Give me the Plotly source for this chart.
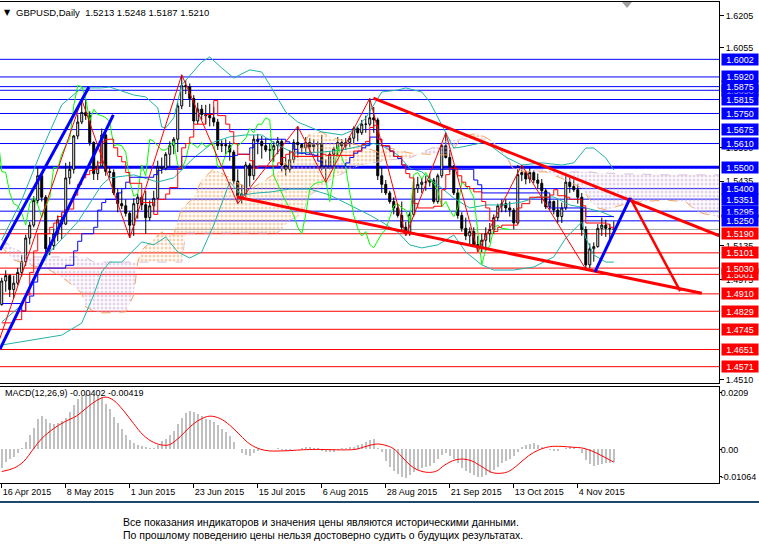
import plotly.graph_objects as go
import pandas as pd

# ---------------- data ----------------
dates = pd.bdate_range("2015-04-16", "2015-11-17")

opens = [1.4860,1.4970,1.4995,1.4930,1.4960,1.5010,1.5060,1.5170,1.5230,1.5345,
         1.5460,1.5360,1.5120,1.5135,1.5190,1.5255,1.5235,1.5450,1.5490,1.5645,
         1.5710,1.5755,1.5740,1.5615,1.5470,1.5505,1.5650,1.5480,1.5475,1.5380,
         1.5330,1.5320,1.5285,1.5230,1.5330,1.5360,1.5325,1.5265,1.5320,1.5355,
         1.5500,1.5495,1.5560,1.5600,1.5630,1.5785,1.5880,1.5875,1.5820,1.5715,
         1.5770,1.5745,1.5740,1.5730,1.5710,1.5600,1.5605,1.5600,1.5570,1.5435,
         1.5365,1.5375,1.5510,1.5460,1.5630,1.5620,1.5600,1.5580,1.5580,1.5600,
         1.5620,1.5510,1.5490,1.5535,1.5615,1.5605,1.5590,1.5615,1.5595,1.5605,
         1.5610,1.5500,1.5505,1.5560,1.5585,1.5615,1.5600,1.5615,1.5635,1.5680,
         1.5660,1.5700,1.5700,1.5730,1.5720,1.5460,1.5420,1.5380,1.5340,1.5310,
         1.5275,1.5220,1.5190,1.5280,1.5400,1.5420,1.5430,1.5430,1.5440,1.5340,
         1.5460,1.5600,1.5545,1.5500,1.5380,1.5275,1.5215,1.5180,1.5200,1.5140,
         1.5125,1.5160,1.5190,1.5210,1.5265,1.5320,1.5330,1.5310,1.5300,1.5240,
         1.5465,1.5475,1.5445,1.5475,1.5440,1.5425,1.5390,1.5315,1.5340,1.5300,
         1.5270,1.5310,1.5430,1.5410,1.5395,1.5360,1.5210,1.5045,1.5120,1.5130,
         1.5215,1.5230,1.5215,1.5213]
highs = [1.4985,1.5020,1.5000,1.4995,1.5030,1.5090,1.5185,1.5245,1.5365,1.5497,
         1.5480,1.5370,1.5175,1.5215,1.5275,1.5285,1.5520,1.5525,1.5650,1.5745,
         1.5815,1.5815,1.5760,1.5620,1.5530,1.5680,1.5660,1.5500,1.5490,1.5400,
         1.5390,1.5350,1.5295,1.5355,1.5375,1.5370,1.5390,1.5345,1.5390,1.5530,
         1.5545,1.5570,1.5620,1.5640,1.5800,1.5930,1.5905,1.5890,1.5835,1.5800,
         1.5790,1.5790,1.5795,1.5780,1.5725,1.5625,1.5630,1.5620,1.5580,1.5490,
         1.5420,1.5525,1.5520,1.5650,1.5655,1.5645,1.5635,1.5610,1.5620,1.5640,
         1.5630,1.5545,1.5580,1.5630,1.5690,1.5610,1.5640,1.5635,1.5630,1.5620,
         1.5650,1.5535,1.5575,1.5595,1.5640,1.5630,1.5635,1.5645,1.5690,1.5690,
         1.5720,1.5740,1.5820,1.5780,1.5730,1.5500,1.5440,1.5390,1.5360,1.5330,
         1.5340,1.5245,1.5290,1.5450,1.5455,1.5450,1.5460,1.5470,1.5450,1.5470,
         1.5610,1.5660,1.5580,1.5510,1.5400,1.5290,1.5265,1.5220,1.5220,1.5180,
         1.5190,1.5220,1.5240,1.5280,1.5330,1.5350,1.5350,1.5340,1.5310,1.5510,
         1.5510,1.5480,1.5495,1.5485,1.5470,1.5445,1.5400,1.5355,1.5345,1.5350,
         1.5335,1.5460,1.5450,1.5445,1.5420,1.5380,1.5225,1.5145,1.5150,1.5235,
         1.5265,1.5255,1.5235,1.5248]
lows = [1.4855,1.4920,1.4895,1.4890,1.4950,1.4990,1.5040,1.5140,1.5220,1.5330,
        1.5340,1.5105,1.5090,1.5115,1.5155,1.5165,1.5230,1.5420,1.5470,1.5630,
        1.5700,1.5720,1.5600,1.5440,1.5440,1.5500,1.5460,1.5450,1.5370,1.5290,
        1.5305,1.5270,1.5170,1.5180,1.5260,1.5300,1.5190,1.5250,1.5290,1.5350,
        1.5470,1.5485,1.5500,1.5560,1.5570,1.5770,1.5840,1.5780,1.5700,1.5700,
        1.5720,1.5700,1.5690,1.5690,1.5580,1.5570,1.5560,1.5530,1.5420,1.5330,
        1.5330,1.5360,1.5410,1.5440,1.5560,1.5540,1.5570,1.5530,1.5525,1.5560,
        1.5480,1.5460,1.5475,1.5520,1.5545,1.5560,1.5560,1.5560,1.5570,1.5550,
        1.5485,1.5430,1.5490,1.5500,1.5550,1.5570,1.5580,1.5595,1.5605,1.5620,
        1.5650,1.5660,1.5690,1.5660,1.5440,1.5380,1.5370,1.5330,1.5280,1.5265,
        1.5200,1.5180,1.5180,1.5270,1.5380,1.5380,1.5390,1.5410,1.5330,1.5330,
        1.5450,1.5540,1.5480,1.5370,1.5260,1.5200,1.5160,1.5140,1.5130,1.5105,
        1.5105,1.5110,1.5150,1.5190,1.5250,1.5290,1.5290,1.5270,1.5210,1.5235,
        1.5435,1.5420,1.5425,1.5425,1.5400,1.5330,1.5305,1.5300,1.5280,1.5240,
        1.5240,1.5300,1.5380,1.5385,1.5330,1.5180,1.5025,1.5030,1.5060,1.5125,
        1.5180,1.5175,1.5160,1.5187]
closes = [1.4970,1.4995,1.4930,1.4960,1.5010,1.5060,1.5170,1.5230,1.5345,1.5460,
          1.5360,1.5120,1.5135,1.5190,1.5255,1.5235,1.5450,1.5490,1.5645,1.5710,
          1.5755,1.5740,1.5615,1.5470,1.5505,1.5650,1.5480,1.5475,1.5380,1.5330,
          1.5320,1.5285,1.5230,1.5330,1.5360,1.5325,1.5265,1.5320,1.5355,1.5500,
          1.5495,1.5560,1.5600,1.5630,1.5785,1.5880,1.5875,1.5820,1.5715,1.5770,
          1.5745,1.5740,1.5730,1.5710,1.5600,1.5605,1.5600,1.5570,1.5435,1.5365,
          1.5375,1.5510,1.5460,1.5630,1.5620,1.5600,1.5580,1.5580,1.5600,1.5620,
          1.5510,1.5490,1.5535,1.5615,1.5605,1.5590,1.5615,1.5595,1.5605,1.5610,
          1.5500,1.5505,1.5560,1.5585,1.5615,1.5600,1.5615,1.5635,1.5680,1.5660,
          1.5700,1.5700,1.5730,1.5720,1.5460,1.5420,1.5380,1.5340,1.5310,1.5275,
          1.5220,1.5190,1.5280,1.5400,1.5420,1.5430,1.5430,1.5440,1.5340,1.5460,
          1.5600,1.5545,1.5500,1.5380,1.5275,1.5215,1.5180,1.5200,1.5140,1.5125,
          1.5160,1.5190,1.5210,1.5265,1.5320,1.5330,1.5310,1.5300,1.5240,1.5465,
          1.5475,1.5445,1.5475,1.5440,1.5425,1.5390,1.5315,1.5340,1.5300,1.5270,
          1.5310,1.5430,1.5410,1.5395,1.5360,1.5210,1.5045,1.5120,1.5130,1.5215,
          1.5230,1.5215,1.5213,1.5210]

# MACD main (histogram) and signal vertices
macd_hist = [-0.0060,-0.0043,-0.0032,-0.0024,-0.0013,0.0005,0.0025,0.0047,0.0071,0.0099,
             0.0110,0.0102,0.0089,0.0085,0.0089,0.0093,0.0104,0.0124,0.0148,0.0168,
             0.0178,0.0184,0.0184,0.0181,0.0178,0.0173,0.0151,0.0132,0.0107,0.0089,
             0.0069,0.0049,0.0031,0.0022,0.0016,0.0012,0.0008,0.0005,0.0005,0.0016,
             0.0027,0.0036,0.0047,0.0060,0.0085,0.0104,0.0120,0.0126,0.0124,0.0118,
             0.0111,0.0102,0.0096,0.0091,0.0080,0.0069,0.0058,0.0045,0.0025,0.0003,
             -0.0013,-0.0019,-0.0021,-0.0013,-0.0005,0.0001,0.0003,0.0001,0.0003,0.0005,
             -0.0003,-0.0005,-0.0002,0.0001,0.0003,0.0005,0.0008,0.0007,0.0005,0.0005,
             -0.0005,-0.0007,-0.0008,-0.0007,-0.0002,0.0004,0.0006,0.0008,0.0009,0.0013,
             0.0018,0.0024,0.0030,0.0034,0.0006,-0.0010,-0.0038,-0.0057,-0.0071,-0.0082,
             -0.0091,-0.0095,-0.0086,-0.0076,-0.0068,-0.0060,-0.0057,-0.0056,-0.0046,-0.0030,
             -0.0019,-0.0013,-0.0021,-0.0032,-0.0046,-0.0060,-0.0071,-0.0079,-0.0086,-0.0092,
             -0.0091,-0.0086,-0.0079,-0.0068,-0.0057,-0.0046,-0.0038,-0.0032,-0.0021,-0.0008,
             0.0009,0.0014,0.0019,0.0020,0.0016,0.0009,0.0003,-0.0002,-0.0005,-0.0005,
             0.0000,0.0005,0.0009,0.0009,0.0003,-0.0013,-0.0035,-0.0049,-0.0054,-0.0052,
             -0.0048,-0.0046,-0.0045,-0.0040]
signal_x = [0,3,5.4,8,10,13,15.4,18.75,21,23.75,26,28,30.4,33,35.4,38,40.4,42,44.6,47,
            49.6,52,54.6,57,59.6,62,64.6,67,69.6,72,75.4,78.75,88.3,90.8,93.75,95.8,97.9,
            100,102,104,106.7,108.75,110.8,113.3,115.4,117.5,120,122.5,124.6,126.7,129,
            131.7,134.2,137,139.9,142.9,145,147.5,150,152,153]
signal_v = [-0.0073,-0.0062,-0.0041,0.0003,0.0036,0.0069,0.0089,0.0111,0.0135,0.0162,
            0.0173,0.0162,0.0129,0.0085,0.0047,0.0023,0.0014,0.0016,0.0042,0.0074,
            0.0099,0.0110,0.0102,0.0080,0.0047,0.0018,0.0001,-0.0005,-0.0005,-0.0004,
            -0.0001,0.0000,0.0000,0.0009,0.0018,0.0014,0.0003,-0.0024,-0.0051,-0.0068,
            -0.0076,-0.0071,-0.0051,-0.0035,-0.0032,-0.0038,-0.0057,-0.0076,-0.0079,-0.0073,
            -0.0051,-0.0021,-0.0002,0.0009,0.0010,0.0007,0.0005,-0.0005,-0.0021,-0.0035,-0.0042]

# Bollinger bands (vertices)
bb_up_x = [0,5,10,15,20,25,27,33,36,39,40,41,43,45,50,52,55,58,62,65,67,71,74,77,80,85,88,91,
           95,99,101,105,107,110,113,115,121,126,130,135,140,143,146,148,151,153]
bb_up = [1.5161,1.5347,1.5580,1.5790,1.5869,1.5869,1.5873,1.5836,1.5827,1.5776,1.5687,1.5683,
         1.5729,1.5883,1.5990,1.6013,1.5962,1.5915,1.5953,1.5943,1.5883,1.5757,1.5710,1.5687,
         1.5664,1.5650,1.5673,1.5729,1.5850,1.5859,1.5869,1.5850,1.5804,1.5696,1.5589,1.5594,
         1.5617,1.5547,1.5510,1.5520,1.5510,1.5520,1.5589,1.5589,1.5543,1.5487]
bb_mid_x = [0,5,8,12,19,25,27,33,39,43,48,53,57,61,65,69,73,80,85,88,93,95,99,102,105,109,113,
            117,121,125,130,134,138,142,146,150,153]
bb_mid = [1.4779,1.4858,1.4984,1.5105,1.5245,1.5417,1.5450,1.5464,1.5431,1.5450,1.5543,1.5617,
          1.5641,1.5650,1.5650,1.5603,1.5566,1.5570,1.5580,1.5590,1.5610,1.5600,1.5557,1.5496,
          1.5478,1.5417,1.5356,1.5310,1.5324,1.5324,1.5338,1.5361,1.5361,1.5324,1.5310,1.5291,1.5268]
bb_low_x = [0,7,15,20,23,25,27,30,33,35,38,41,44,47,50,53,57,60,64,67,72,77,82,87,92,95,99,102,
            105,109,113,116,120,123,128,133,138,141,145,146,148,151,153]
bb_low = [1.4672,1.4695,1.4718,1.4774,1.4905,1.5012,1.5058,1.5058,1.5114,1.5152,1.5138,1.5175,
          1.5105,1.5077,1.5105,1.5231,1.5431,1.5370,1.5380,1.5384,1.5398,1.5398,1.5370,1.5324,
          1.5277,1.5245,1.5198,1.5138,1.5124,1.5138,1.5184,1.5105,1.5045,1.5021,1.5021,1.5035,
          1.5082,1.5170,1.5245,1.5170,1.5091,1.5058,1.5058]

# Ichimoku lines (vertices)
tenkan_x = [0,3,5,6,7,8,9,12,13,14,15,16,18,19,20,21,22,23,24,25,26,28,29,30,31,32,35,38,39,41,
            42,44,45,46,47,48,51,53,54,56,57,58,59,62,63,64,69,70,71,72,73,80,81,88,90,91,92,
            93,94,95,97,98,100,101,102,103,104,108,110,111,112,114,115,116,117,118,120,121,
            122,123,124,125,129,130,132,137,138,139,141,142,145,146,151,152,153]
tenkan = [1.4775,1.4790,1.4830,1.4905,1.5010,1.5110,1.5190,1.5220,1.5240,1.5270,1.5290,1.5305,
          1.5370,1.5420,1.5450,1.5465,1.5485,1.5490,1.5520,1.5618,1.5630,1.5590,1.5550,1.5525,
          1.5475,1.5425,1.5335,1.5280,1.5350,1.5375,1.5405,1.5495,1.5590,1.5610,1.5640,1.5700,
          1.5745,1.5810,1.5740,1.5700,1.5665,1.5610,1.5560,1.5530,1.5495,1.5505,1.5520,1.5545,
          1.5560,1.5570,1.5550,1.5560,1.5555,1.5575,1.5605,1.5620,1.5685,1.5695,1.5630,1.5600,
          1.5575,1.5550,1.5510,1.5470,1.5450,1.5330,1.5310,1.5318,1.5395,1.5465,1.5495,1.5460,
          1.5430,1.5410,1.5400,1.5385,1.5340,1.5310,1.5250,1.5200,1.5220,1.5230,1.5310,1.5330,
          1.5360,1.5370,1.5395,1.5367,1.5360,1.5350,1.5320,1.5240,1.5235,1.5220,1.5200]
kijun_x = [0,5,6,7,8,9,16,18,19,20,23,24,25,26,29,30,31,32,38,39,40,45,58,59,62,63,64,71,72,73,
           74,76,78,79,80,86,87,88,89,90,91,92,94,95,96,97,98,99,100,101,118,119,120,137,146,153]
kijun = [1.4865,1.4830,1.4870,1.4900,1.4965,1.5030,1.5043,1.5110,1.5155,1.5190,1.5220,1.5300,
         1.5335,1.5350,1.5380,1.5400,1.5430,1.5453,1.5465,1.5485,1.5490,1.5550,1.5555,1.5560,
         1.5590,1.5610,1.5630,1.5618,1.5610,1.5583,1.5565,1.5560,1.5555,1.5528,1.5505,1.5520,
         1.5545,1.5565,1.5575,1.5590,1.5600,1.5640,1.5630,1.5600,1.5595,1.5575,1.5550,1.5540,
         1.5510,1.5490,1.5440,1.5418,1.5380,1.5310,1.5270,1.5270]
cloud_x = [0,3,7,12,16,20,21,23,25,31,33,34,35,40,43,45,46,48,50,53,57,62,65,69,72,75,77,80,82,
           89,94,97,102,109,112,115,119,122,125,127,128,131,136,141,145,147,149,151,155,159,166,
           171,174,180]
senkou_a = [1.5128,1.5068,1.5045,1.5021,1.4975,1.4914,1.4849,1.4830,1.4821,1.4826,1.4905,1.5058,
            1.5114,1.5198,1.5184,1.5310,1.5324,1.5357,1.5440,1.5492,1.5450,1.5394,1.5431,1.5478,
            1.5547,1.5594,1.5655,1.5664,1.5641,1.5603,1.5571,1.5589,1.5566,1.5557,1.5557,1.5641,
            1.5659,1.5627,1.5571,1.5520,1.5487,1.5478,1.5478,1.5440,1.5403,1.5347,1.5310,1.5301,
            1.5324,1.5338,1.5347,1.5338,1.5291,1.5263]
senkou_b = [1.5161,1.5124,1.5082,1.5082,1.5082,1.5082,1.5082,1.5058,1.5058,1.5058,1.5058,1.5058,
            1.5058,1.5058,1.5058,1.5058,1.5194,1.5194,1.5194,1.5194,1.5194,1.5194,1.5194,1.5194,
            1.5254,1.5277,1.5371,1.5403,1.5440,1.5506,1.5524,1.5534,1.5543,1.5603,1.5627,1.5631,
            1.5631,1.5631,1.5580,1.5520,1.5496,1.5487,1.5487,1.5478,1.5478,1.5478,1.5473,1.5473,
            1.5468,1.5468,1.5464,1.5464,1.5464,1.5464]
chikou_shift = 26

# ZigZag and drawn objects (bar index, price)
zz_x = [-3,20,32,45,59,74,81,92,101,111,119,130,146]
zz_p = [1.4565,1.5815,1.5170,1.5930,1.5330,1.5690,1.5430,1.5820,1.5180,1.5660,1.5105,1.5510,1.5025]
res_line_x, res_line_p = [92.9, 180.0], [1.5821, 1.5176]
sup_line_x, sup_line_p = [58.8, 175.0], [1.5361, 1.4913]
proj_up_x, proj_up_p = [148.3, 157.1], [1.5012, 1.5357]
proj_dn_x, proj_dn_p = [157.1, 169.6], [1.5357, 1.4923]
chan_up_x, chan_up_p = [-0.43, 21.8], [1.5114, 1.5873]
chan_lo_x, chan_lo_p = [-0.43, 27.9], [1.4653, 1.5743]

blue_levels = [1.5858, 1.6002, 1.5920, 1.5875, 1.5815, 1.5750, 1.5675, 1.5610, 1.5500,
               1.5400, 1.5351, 1.5295, 1.5250]
red_levels = [1.5001, 1.5190, 1.5101, 1.5030, 1.4910, 1.4829, 1.4745, 1.4651, 1.4571]
thick_level = 1.5500
last_price = 1.5210

price_ticks = [1.6205, 1.6055, 1.5590, 1.5435, 1.5135, 1.4975, 1.4510]
tick_dates = ["2015-04-16", "2015-05-08", "2015-06-01", "2015-06-23", "2015-07-15",
              "2015-08-06", "2015-08-28", "2015-09-21", "2015-10-13", "2015-11-04"]
tick_labels = ["16 Apr 2015", "8 May 2015", "1 Jun 2015", "23 Jun 2015", "15 Jul 2015",
               "6 Aug 2015", "28 Aug 2015", "21 Sep 2015", "13 Oct 2015", "4 Nov 2015"]
macd_labels = ["0.0209", "0.00", "-0.01064"]

header = "GBPUSD,Daily  1.5213 1.5248 1.5187 1.5210"
macd_title = "MACD(12,26,9) -0.00402 -0.00419"
footer1 = "Все показания индикаторов и значения цены являются историческими данными."
footer2 = "По прошлому поведению цены нельзя достоверно судить о будущих результатах."

# ---------------- layout geometry ----------------
W, H = 759, 552
PL, PR, PT, PB = 0, 719, 2, 483
def px(x):
    return (x - PL) / (PR - PL)
def py(y):
    return (PB - y) / (PB - PT)

FONT = "Liberation Sans, Arial, sans-serif"
bars = list(range(len(closes)))
tick_pos = [int(dates.get_loc(pd.Timestamp(d))) for d in tick_dates]

fig = go.Figure()

# Ichimoku cloud, split where spans cross
def runs(xs, a, b):
    out = []
    bull = (a[0] - b[0]) > 0
    cx, ca, cb = [xs[0]], [a[0]], [b[0]]
    for k in range(1, len(xs)):
        d0 = a[k-1] - b[k-1]
        d1 = a[k] - b[k]
        nb = bull if d1 == 0 else d1 > 0
        if nb != bull and d0 != d1:
            t = d0 / (d0 - d1)
            xc = xs[k-1] + t * (xs[k] - xs[k-1])
            yc = a[k-1] + t * (a[k] - a[k-1])
            cx.append(xc); ca.append(yc); cb.append(yc)
            out.append((bull, cx, ca, cb))
            cx, ca, cb = [xc], [yc], [yc]
            bull = nb
        cx.append(xs[k]); ca.append(a[k]); cb.append(b[k])
    out.append((bull, cx, ca, cb))
    return out

for bull, cx, ca, cb in runs(cloud_x, senkou_a, senkou_b):
    col = "#F4A460" if bull else "#C8A8D8"
    fig.add_trace(go.Scatter(x=cx, y=cb, mode="lines", line=dict(width=0),
                             hoverinfo="skip", showlegend=False))
    fig.add_trace(go.Scatter(x=cx, y=ca, mode="lines", line=dict(width=0),
                             fill="tonexty", fillcolor="rgba(0,0,0,0)",
                             fillpattern=dict(shape=".", fgcolor=col, bgcolor="rgba(0,0,0,0)",
                                              size=4, solidity=0.45),
                             hoverinfo="skip", showlegend=False))
fig.add_trace(go.Scatter(x=cloud_x, y=senkou_a, mode="lines",
                         line=dict(color="#F4A460", width=1, dash="dash"), showlegend=False))
fig.add_trace(go.Scatter(x=cloud_x, y=senkou_b, mode="lines",
                         line=dict(color="#D8BFD8", width=1, dash="dash"), showlegend=False))

# Bollinger bands
for bx, by in ((bb_up_x, bb_up), (bb_mid_x, bb_mid), (bb_low_x, bb_low)):
    fig.add_trace(go.Scatter(x=bx, y=by, mode="lines",
                             line=dict(color="#20B2AA", width=1), showlegend=False))

# Ichimoku lines
fig.add_trace(go.Scatter(x=[b - chikou_shift for b in bars], y=closes, mode="lines",
                         line=dict(color="#00FF00", width=1), showlegend=False))
fig.add_trace(go.Scatter(x=kijun_x, y=kijun, mode="lines", line_shape="hv",
                         line=dict(color="#0000FF", width=1), showlegend=False))
fig.add_trace(go.Scatter(x=tenkan_x, y=tenkan, mode="lines", line_shape="hv",
                         line=dict(color="#FF0000", width=1), showlegend=False))
# zigzag
fig.add_trace(go.Scatter(x=zz_x, y=zz_p, mode="lines",
                         line=dict(color="#FF0000", width=1), showlegend=False))

# candles
fig.add_trace(go.Candlestick(x=bars, open=opens, high=highs, low=lows, close=closes,
                             increasing=dict(line=dict(color="black", width=1), fillcolor="white"),
                             decreasing=dict(line=dict(color="black", width=1), fillcolor="black"),
                             whiskerwidth=0, showlegend=False, hoverinfo="skip"))

# drawn trend objects
for lx, ly, col, w in ((res_line_x, res_line_p, "#FF0000", 3),
                       (sup_line_x, sup_line_p, "#FF0000", 3),
                       (proj_dn_x, proj_dn_p, "#FF0000", 2.5),
                       (proj_up_x, proj_up_p, "#0000FF", 3),
                       (chan_up_x, chan_up_p, "#0000FF", 3),
                       (chan_lo_x, chan_lo_p, "#0000FF", 3)):
    fig.add_trace(go.Scatter(x=lx, y=ly, mode="lines", line=dict(color=col, width=w),
                             showlegend=False))

# MACD
fig.add_trace(go.Bar(x=bars, y=macd_hist, marker=dict(color="#C0C0C0", line=dict(width=0)),
                     width=0.55, xaxis="x2", yaxis="y2", showlegend=False))
fig.add_trace(go.Scatter(x=signal_x, y=signal_v, mode="lines", line_shape="spline",
                         line=dict(color="#FF0000", width=1), xaxis="x2", yaxis="y2",
                         showlegend=False))

shapes = []
annotations = []
for lv in blue_levels:
    shapes.append(dict(type="line", xref="x domain", yref="y", x0=0, x1=1, y0=lv, y1=lv,
                       line=dict(color="#0000FF", width=3 if lv == thick_level else 1),
                       layer="below"))
for lv in red_levels:
    shapes.append(dict(type="line", xref="x domain", yref="y", x0=0, x1=1, y0=lv, y1=lv,
                       line=dict(color="#FF0000", width=1), layer="below"))
shapes.append(dict(type="line", xref="x domain", yref="y", x0=0, x1=1, y0=last_price,
                   y1=last_price, line=dict(color="#A0A0A0", width=1), layer="below"))
# separator under chart
shapes.append(dict(type="line", xref="paper", yref="paper", x0=0, x1=W / (PR - PL),
                   y0=py(502), y1=py(502), line=dict(color="#1C4A6E", width=2)))
# chart shift marker
shapes.append(dict(type="path", xref="paper", yref="paper",
                   path=f"M {px(622)} {py(2)} L {px(632)} {py(2)} L {px(627)} {py(8)} Z",
                   fillcolor="#A0A0A0", line=dict(width=0)))

box_anns = []
for lv in blue_levels + red_levels:
    col = "#0000FF" if lv in blue_levels else "#FF0000"
    box_anns.append(dict(xref="paper", yref="y", x=px(721), y=lv, xanchor="left",
                         yanchor="middle", text=f"{lv:.4f}", showarrow=False,
                         bgcolor=col, width=36, height=11, borderpad=0,
                         font=dict(color="white", size=9, family=FONT)))
# the partly hidden boxes go first so their neighbours cover them
box_anns.sort(key=lambda a: 0 if a["y"] in (1.5858, 1.5001) else 1)
annotations.extend(box_anns)

annotations.append(dict(xref="paper", yref="paper", x=px(2), y=py(12), xanchor="left",
                        yanchor="middle", text="▼", showarrow=False,
                        font=dict(size=8, color="black", family="DejaVu Sans")))
annotations.append(dict(xref="paper", yref="paper", x=px(14), y=py(12), xanchor="left",
                        yanchor="middle", text=header, showarrow=False,
                        font=dict(size=9.5, color="black", family=FONT)))
annotations.append(dict(xref="paper", yref="paper", x=px(3), y=py(393), xanchor="left",
                        yanchor="middle", text=macd_title, showarrow=False,
                        font=dict(size=9, color="black", family=FONT)))
annotations.append(dict(xref="paper", yref="paper", x=px(121), y=py(522), xanchor="left",
                        yanchor="middle", text=footer1, showarrow=False,
                        font=dict(size=10.5, color="black", family=FONT)))
annotations.append(dict(xref="paper", yref="paper", x=px(121), y=py(535), xanchor="left",
                        yanchor="middle", text=footer2, showarrow=False,
                        font=dict(size=10.5, color="black", family=FONT)))

x_range = [-0.43, 179.3]
fig.update_layout(
    width=W, height=H, margin=dict(l=PL, r=W - PR, t=PT, b=H - PB, pad=0),
    paper_bgcolor="white", plot_bgcolor="white", showlegend=False,
    font=dict(family=FONT, size=9, color="black"),
    bargap=0, hovermode=False,
    xaxis=dict(domain=[0, 1], anchor="y", range=x_range, showticklabels=False, ticks="",
               showgrid=False, zeroline=False, showline=True, mirror=True,
               linecolor="black", linewidth=1, rangeslider=dict(visible=False)),
    yaxis=dict(domain=[py(383), 1], anchor="x", side="right", range=[1.4495, 1.6269],
               tickvals=price_ticks, ticktext=[f"{v:.4f}" for v in price_ticks],
               ticks="outside", ticklen=4, tickcolor="black", showgrid=False,
               zeroline=False, showline=True, mirror=True, linecolor="black", linewidth=1,
               tickfont=dict(size=9, color="black", family=FONT)),
    xaxis2=dict(domain=[0, 1], anchor="y2", matches="x", range=x_range,
                tickvals=tick_pos, ticktext=tick_labels, ticks="outside", ticklen=4,
                tickcolor="black", ticklabelposition="outside right", tickangle=0,
                showgrid=False, zeroline=False, showline=True, mirror=True,
                linecolor="black", linewidth=1,
                tickfont=dict(size=9, color="black", family=FONT)),
    yaxis2=dict(domain=[0, py(386.5)], anchor="x2", side="right", range=[-0.0111, 0.0208],
                tickvals=[0.0188, 0.0, -0.0091], ticktext=macd_labels, ticks="outside",
                ticklen=2, tickcolor="black", ticklabelstandoff=-3, showgrid=False,
                zeroline=False, showline=True, mirror=True, linecolor="black", linewidth=1,
                tickfont=dict(size=9, color="black", family=FONT)),
    shapes=shapes, annotations=annotations,
)

fig.write_html("out.html", config={"displayModeBar": False, "staticPlot": True},
               post_script="document.body.style.margin='0';document.body.style.overflow='hidden';")
